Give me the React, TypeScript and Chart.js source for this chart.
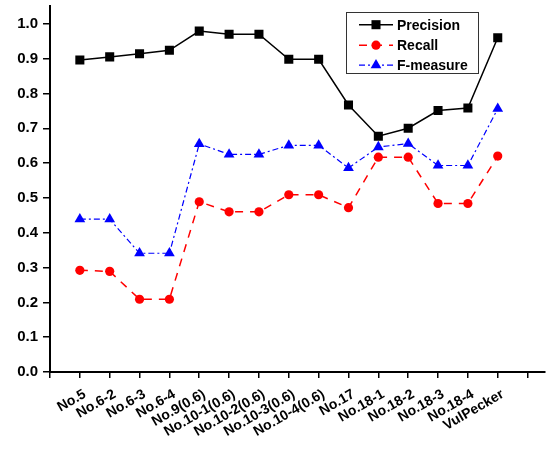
import React, { useEffect, useRef } from "react";
import { Chart, registerables } from "chart.js";

Chart.register(...registerables);

const categories = [
  "No.5", "No.6-2", "No.6-3", "No.6-4", "No.9(0.6)", "No.10-1(0.6)", "No.10-2(0.6)",
  "No.10-3(0.6)", "No.10-4(0.6)", "No.17", "No.18-1", "No.18-2", "No.18-3", "No.18-4", "VulPecker",
];
const precision = [0.896, 0.905, 0.914, 0.924, 0.979, 0.970, 0.970, 0.898, 0.898, 0.767, 0.677, 0.700, 0.751, 0.758, 0.960];
const recall = [0.292, 0.289, 0.209, 0.209, 0.489, 0.460, 0.460, 0.509, 0.509, 0.472, 0.617, 0.617, 0.484, 0.484, 0.620];
const fmeasure = [0.439, 0.439, 0.341, 0.341, 0.655, 0.625, 0.625, 0.651, 0.651, 0.586, 0.646, 0.656, 0.593, 0.593, 0.756];
const yTicks = [0, 0.1, 0.2, 0.3, 0.4, 0.5, 0.6, 0.7, 0.8, 0.9, 1.0];

const FONT = "'Liberation Sans', Arial, sans-serif";

const toPoints = (arr: number[]) => arr.map((v, i) => ({ x: i, y: v }));

const legendPlugin = {
  id: "boxLegend",
  afterDraw(chart: any) {
    const ctx = chart.ctx;
    const x0 = 346, y0 = 12, w = 132, h = 61;
    ctx.save();
    ctx.strokeStyle = "#333";
    ctx.lineWidth = 1;
    ctx.fillStyle = "#fff";
    ctx.fillRect(x0, y0, w, h);
    ctx.strokeRect(x0 + 0.5, y0 + 0.5, w, h);
    const rows = [24.7, 45.2, 65.2];
    chart.data.datasets.forEach((ds: any, i: number) => {
      const y = rows[i];
      ctx.beginPath();
      ctx.strokeStyle = ds.borderColor;
      ctx.lineWidth = ds.borderWidth;
      ctx.setLineDash(ds.borderDash || []);
      ctx.moveTo(359, y);
      ctx.lineTo(393, y);
      ctx.stroke();
      ctx.setLineDash([]);
      ctx.fillStyle = ds.pointBackgroundColor;
      const cx = 376;
      const r = ds.pointRadius;
      ctx.beginPath();
      if (ds.pointStyle === "rect") {
        const s = Math.SQRT1_2 * r;
        ctx.rect(cx - s, y - s, 2 * s, 2 * s);
      } else if (ds.pointStyle === "circle") {
        ctx.arc(cx, y, r, 0, Math.PI * 2);
      } else {
        ctx.moveTo(cx, y - r);
        ctx.lineTo(cx + r * Math.sin(Math.PI * 2 / 3), y - r * Math.cos(Math.PI * 2 / 3));
        ctx.lineTo(cx - r * Math.sin(Math.PI * 2 / 3), y - r * Math.cos(Math.PI * 2 / 3));
        ctx.closePath();
      }
      ctx.fill();
      ctx.fillStyle = "#000";
      ctx.font = `bold 14px ${FONT}`;
      ctx.textBaseline = "middle";
      ctx.textAlign = "left";
      ctx.fillText(ds.label, 397, y + 1);
    });
    ctx.restore();
  },
};

export default function App() {
  const ref = useRef<HTMLCanvasElement>(null);
  useEffect(() => {
    if (!ref.current) return;
    const chart = new Chart(ref.current, {
      type: "line",
      data: {
        datasets: [
          {
            label: "Precision",
            data: toPoints(precision),
            borderColor: "#000",
            backgroundColor: "#000",
            pointBackgroundColor: "#000",
            pointBorderColor: "#000",
            borderWidth: 1.5,
            pointStyle: "rect",
            pointRadius: 6.4,
            pointBorderWidth: 0,
          },
          {
            label: "Recall",
            data: toPoints(recall),
            borderColor: "#ff0000",
            backgroundColor: "#ff0000",
            pointBackgroundColor: "#ff0000",
            pointBorderColor: "#ff0000",
            borderWidth: 1.5,
            borderDash: [8, 7],
            pointStyle: "circle",
            pointRadius: 4.6,
            pointBorderWidth: 0,
          },
          {
            label: "F-measure",
            data: toPoints(fmeasure),
            borderColor: "#0000ff",
            backgroundColor: "#0000ff",
            pointBackgroundColor: "#0000ff",
            pointBorderColor: "#0000ff",
            borderWidth: 1.2,
            borderDash: [6, 3, 2, 3],
            pointStyle: "triangle",
            pointRadius: 6.2,
            pointBorderWidth: 0,
          },
        ] as any,
      },
      options: {
        animation: false,
        responsive: false,
        layout: { padding: { top: 4, right: 4, left: 0, bottom: 0 } },
        plugins: { legend: { display: false }, tooltip: { enabled: false } },
        scales: {
          x: {
            type: "linear",
            min: -1,
            max: 15.57,
            afterBuildTicks: (scale: any) => {
              scale.ticks = Array.from({ length: 17 }, (_, i) => ({ value: i - 1 }));
            },
            afterFit: (scale: any) => {
              scale.height = 79;
              scale.paddingLeft = 0;
              scale.paddingRight = 0;
            },
            grid: { drawOnChartArea: false, drawTicks: true, tickLength: 6, color: "#000", lineWidth: 1.5 },
            border: { display: true, color: "#000", width: 2 },
            ticks: {
              autoSkip: false,
              minRotation: 30,
              maxRotation: 30,
              padding: 8,
              labelOffset: 5,
              color: "#000",
              font: { family: FONT, size: 14, weight: "bold" },
              callback: (v: any) => {
                const i = Math.round(Number(v));
                return i >= 0 && i < categories.length ? categories[i] : "";
              },
            },
          },
          y: {
            type: "linear",
            min: 0,
            max: 1.05,
            afterBuildTicks: (scale: any) => {
              scale.ticks = yTicks.map((v) => ({ value: v }));
            },
            afterFit: (scale: any) => {
              scale.width = 50;
              scale.paddingTop = 0;
              scale.paddingBottom = 0;
            },
            grid: { drawOnChartArea: false, drawTicks: true, tickLength: 7, color: "#000", lineWidth: 1.5 },
            border: { display: true, color: "#000", width: 2 },
            ticks: {
              padding: 5,
              color: "#000",
              font: { family: FONT, size: 15, weight: "bold" },
              callback: (v: any) => Number(v).toFixed(1),
            },
          },
        },
      } as any,
      plugins: [legendPlugin],
    });
    return () => chart.destroy();
  }, []);
  return (
    <div style={{ position: "fixed", left: 0, top: 0, width: 551, height: 451, background: "#fff" }}>
      <canvas ref={ref} width={551} height={451} style={{ width: 551, height: 451 }} />
    </div>
  );
}
